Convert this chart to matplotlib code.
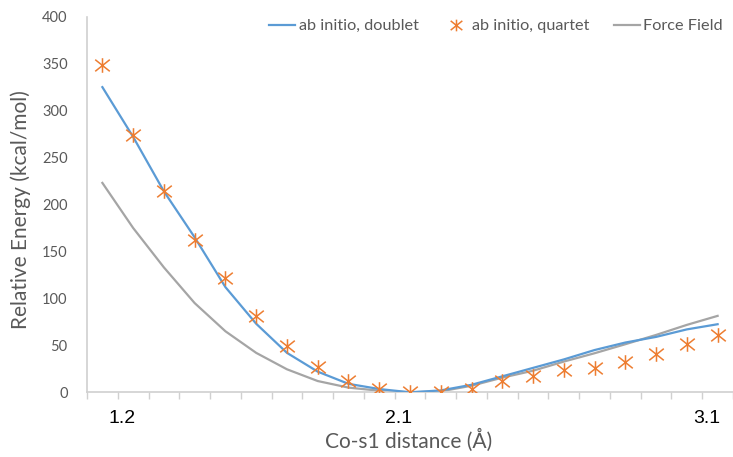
import numpy as np
import matplotlib
matplotlib.use("Agg")
import matplotlib.pyplot as plt
from matplotlib.path import Path
from matplotlib.transforms import ScaledTranslation

plt.rcParams['font.family'] = ['Lato', 'DejaVu Sans']

# Data
distance = [1.1, 1.2, 1.3, 1.4, 1.5, 1.6, 1.7, 1.8, 1.9, 2.0, 2.1,
            2.2, 2.3, 2.4, 2.5, 2.6, 2.7, 2.8, 2.9, 3.0, 3.1]
doublet = [325, 272, 214, 165, 112, 73, 42, 22, 9, 3.5, 0,
           2, 8, 17, 26, 35, 45, 53, 59, 67, 72.5]
quartet = [349, 274.5, 214, 162.5, 121.5, 81.4, 49.4, 26.7, 12, 3.2, 0,
           0.7, 3.5, 12, 17.4, 23.8, 25.6, 32.7, 40.5, 51.5, 61.1]
force_field = [223, 175, 133, 95, 65, 42, 24.5, 12, 5, 1.7, 0,
               1, 7, 15.6, 23, 32.7, 41.6, 51.2, 61.1, 71.8, 81.4]
xtick_labels = ["1.2", "2.1", "3.1"]
xtick_pos = [1.2, 2.1, 3.1]
yticks = [0, 50, 100, 150, 200, 250, 300, 350, 400]

BLUE = "#5B9BD5"
ORANGE = "#ED7D31"
GRAY = "#A5A5A5"
TXT = "#595959"
AXC = "#D0D0D0"

star = Path([(0, -1), (0, 1), (-1, -0.8), (1, 0.8), (-1, 0.8), (1, -0.8)],
            [Path.MOVETO, Path.LINETO, Path.MOVETO, Path.LINETO, Path.MOVETO, Path.LINETO])

fig = plt.figure(figsize=(7.33, 4.57), dpi=100)
ax = fig.add_axes([87/733, 1-392.3/457, 1-87/733, (392.3-16.7)/457])

ax.plot(distance, doublet, color=BLUE, lw=1.6, label="ab initio, doublet", zorder=3)
ax.plot(distance, quartet, linestyle="none", marker=star, markersize=10.5,
        markeredgewidth=1.1, color=ORANGE, label="ab initio, quartet", zorder=4)
ax.plot(distance, force_field, color=GRAY, lw=1.6, label="Force Field", zorder=2)

ax.set_xlim(1.05, 1.05 + 646/309)
ax.set_ylim(0, 400)

for s in ["top", "right"]:
    ax.spines[s].set_visible(False)
for s in ["left", "bottom"]:
    ax.spines[s].set_color(AXC)
    ax.spines[s].set_linewidth(1.2)

ax.set_yticks(yticks)
ax.tick_params(axis="y", length=0, pad=14, labelsize=10.5, labelcolor=TXT)

ax.set_xticks(xtick_pos)
ax.set_xticklabels(xtick_labels, family=["Liberation Sans", "DejaVu Sans"])
ax.set_xticks(np.arange(1.05, 3.16, 0.1), minor=True)
ax.tick_params(axis="x", which="major", length=0, pad=13, labelsize=14, labelcolor="black")
ax.tick_params(axis="x", which="minor", length=5, width=1, color=AXC, direction="out")
off = ScaledTranslation(-11/100, 0, fig.dpi_scale_trans)
for lab in ax.get_xticklabels():
    lab.set_transform(lab.get_transform() + off)

fig.text(21/733, 1-210/457, "Relative Energy (kcal/mol)", rotation=90,
         ha="center", va="center", fontsize=15, color=TXT)
fig.text(409/733, 1-440/457, "Co-s1 distance (\u00c5)", ha="center", va="center",
         fontsize=15, color=TXT)

leg = fig.legend(loc="center", bbox_to_anchor=(496/733, 1-26/457), ncol=3, frameon=False,
                 fontsize=11.7, handlelength=1.6, handletextpad=0.2, columnspacing=1.5,
                 borderpad=0, markerscale=0.8)
for t in leg.get_texts():
    t.set_color(TXT)

fig.savefig("out.png", dpi=100)
